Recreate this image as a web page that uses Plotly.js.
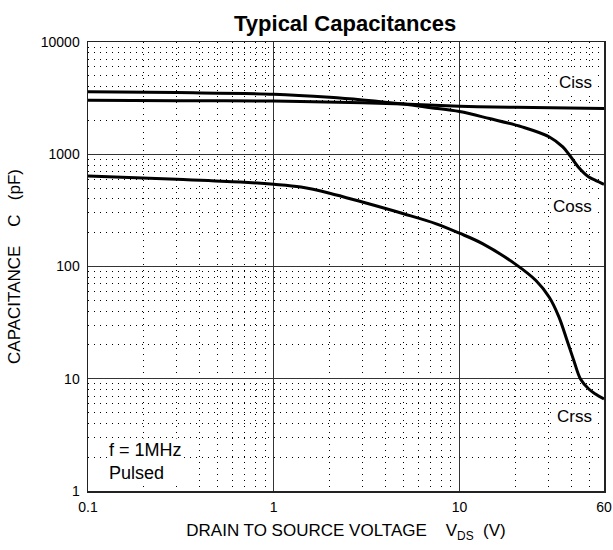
<!DOCTYPE html>
<html>
<head>
<meta charset="utf-8">
<script src="https://cdn.plot.ly/plotly-3.0.1.min.js"></script>
<style>html,body{margin:0;padding:0;background:#fff;}#chart{width:613px;height:550px;}</style>
</head>
<body>
<div id="chart"></div>
<script>
// Drain-source voltage (V) and capacitances (pF)
const cissV = [0.1, 0.3, 1, 3, 5, 10, 20, 60];
const cissC = [3020, 3000, 2980, 2880, 2800, 2680, 2620, 2560];

const cossV = [0.1, 0.3, 1, 2, 3, 5, 7, 10, 14.5, 21.7, 30.5, 36, 39.2, 43.6, 49.7, 54, 60];
const cossC = [3600, 3540, 3430, 3220, 3050, 2800, 2600, 2400, 2080, 1754, 1426, 1162, 980, 771, 627, 585, 540];

const crssV = [0.1, 0.3, 0.66, 1, 1.4, 2, 3, 5, 7.5, 10, 13.3, 20, 25.8, 30.5, 34.3, 38, 41.3, 44.9, 49.7, 54, 60];
const crssC = [640, 598, 566, 540, 510, 450, 375, 295, 240, 198, 160, 105, 75, 53, 35.6, 21.8, 14.5, 9.9, 8.1, 7.3, 6.6];

const xTickVals = [0.1, 1, 10, 60];
const xTickText = ['0.1', '1', '10', '60'];
const yTickVals = [1, 10, 100, 1000, 10000];
const yTickText = ['1', '10', '100', '1000', '10000'];

// minor grid positions (2..9 per decade)
const xMinor = [];
[0.1, 1, 10].forEach(d => { for (let k = 2; k <= 9; k++) { const v = d * k; if (v < 60) xMinor.push(v); } });
const yMinor = [];
[1, 10, 100, 1000].forEach(d => { for (let k = 2; k <= 9; k++) yMinor.push(d * k); });

const lineStyle = {color: '#000', width: 3, shape: 'spline', smoothing: 1};
const traces = [
  {x: cissV, y: cissC, mode: 'lines', line: lineStyle, name: 'Ciss', hoverinfo: 'skip'},
  {x: cossV, y: cossC, mode: 'lines', line: lineStyle, name: 'Coss', hoverinfo: 'skip'},
  {x: crssV, y: crssC, mode: 'lines', line: lineStyle, name: 'Crss', hoverinfo: 'skip'}
];

const fam = 'Liberation Sans, Arial, sans-serif';
const labelFont = {family: fam, size: 17, color: '#000'};

const layout = {
  width: 613, height: 550,
  margin: {l: 88, r: 9, t: 42, b: 59},
  paper_bgcolor: '#fff', plot_bgcolor: '#fff',
  showlegend: false,
  font: {family: fam, color: '#000'},
  title: {text: '<b>Typical Capacitances</b>', font: {family: fam, size: 22, color: '#000'}, x: 0.563, xanchor: 'center', y: 0.958, yanchor: 'middle'},
  xaxis: {
    type: 'log', range: [-1, Math.log10(60)],
    tickmode: 'array', tickvals: xTickVals, ticktext: xTickText,
    tickfont: {family: fam, size: 14, color: '#000'},
    ticks: '', ticklabelstandoff: 3,
    showgrid: true, gridcolor: '#333', gridwidth: 1.3,
    showline: true, linecolor: '#222', linewidth: 1.5, mirror: true,
    zeroline: false,
    minor: {tickmode: 'array', tickvals: xMinor, showgrid: true, gridcolor: '#000', gridwidth: 1, griddash: '1px,5px', ticks: ''},
    title: {text: 'DRAIN TO SOURCE VOLTAGE    V<sub>DS</sub>  (V)', font: {family: fam, size: 17, color: '#000'}, standoff: 10}
  },
  yaxis: {
    type: 'log', range: [0, 4],
    tickmode: 'array', tickvals: yTickVals, ticktext: yTickText,
    tickfont: {family: fam, size: 14, color: '#000'},
    ticks: '', ticklabelstandoff: 4,
    showgrid: true, gridcolor: '#333', gridwidth: 1.3,
    showline: true, linecolor: '#222', linewidth: 1.5, mirror: true,
    zeroline: false,
    minor: {tickmode: 'array', tickvals: yMinor, showgrid: true, gridcolor: '#000', gridwidth: 1, griddash: '1px,5px', ticks: ''},
    title: {text: 'CAPACITANCE    C   (pF)', font: {family: fam, size: 17, color: '#000'}, standoff: 16}
  },
  annotations: [
    {x: Math.log10(53), y: Math.log10(4330), xref: 'x', yref: 'y', text: 'Ciss', showarrow: false, xanchor: 'right', yanchor: 'middle', font: labelFont, bgcolor: '#fff', borderpad: 1},
    {x: Math.log10(53), y: Math.log10(339), xref: 'x', yref: 'y', text: 'Coss', showarrow: false, xanchor: 'right', yanchor: 'middle', font: labelFont, bgcolor: '#fff', borderpad: 1},
    {x: Math.log10(53), y: Math.log10(4.58), xref: 'x', yref: 'y', text: 'Crss', showarrow: false, xanchor: 'right', yanchor: 'middle', font: labelFont, bgcolor: '#fff', borderpad: 1},
    {x: Math.log10(0.126), y: Math.log10(1.85), xref: 'x', yref: 'y', text: 'f = 1MHz<br>Pulsed', align: 'left', showarrow: false, xanchor: 'left', yanchor: 'middle', font: {family: fam, size: 18, color: '#000'}, bgcolor: '#fff', borderpad: 1}
  ]
};

Plotly.newPlot('chart', traces, layout, {staticPlot: true, displayModeBar: false});
</script>
</body>
</html>
